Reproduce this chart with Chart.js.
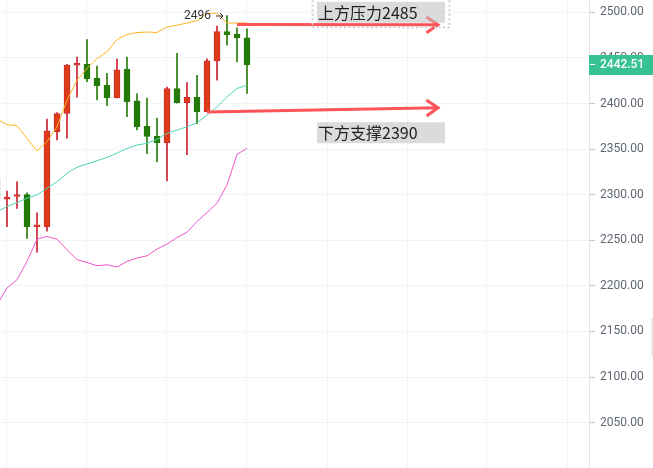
<!DOCTYPE html>
<html><head><meta charset="utf-8">
<script src="https://cdn.jsdelivr.net/npm/chart.js@4.4.0/dist/chart.umd.min.js"></script>
<style>html,body{margin:0;padding:0;background:#fff;overflow:hidden}#wrap{position:relative;width:653px;height:468px}</style>
</head><body><div id="wrap"><canvas id="c" width="653" height="468"></canvas></div>
<script>
// ---- data ----
const categories = ['1','2','3','4','5','6','7','8','9','10','11','12','13','14','15','16','17','18','19','20','21','22','23','24','25','26'];
const opens  = [2317, 2295, 2298, 2300, 2265, 2265, 2369, 2389, 2442, 2443, 2427.5, 2420, 2406, 2437.6, 2403, 2375, 2364, 2357, 2416.5, 2401, 2406.7, 2391, 2446.7, 2479, 2476, 2472];
const highs  = [2321, 2304, 2314, 2302, 2280, 2383, 2390, 2443, 2451, 2470, 2441, 2433, 2448.6, 2451, 2411, 2406, 2384, 2418, 2455, 2423, 2431, 2449, 2485, 2496.5, 2483, 2482];
const lows   = [2290, 2265, 2285, 2252, 2237, 2260, 2360, 2362, 2407, 2424, 2404, 2397.5, 2406, 2385.5, 2371, 2345, 2336, 2315, 2400.5, 2344, 2378, 2391, 2425.6, 2464, 2445.6, 2411];
const closes = [2295, 2297, 2300, 2265, 2267, 2370, 2389, 2442, 2444, 2427, 2419.5, 2406, 2437, 2402, 2374.5, 2364, 2357, 2416.5, 2400.8, 2406.7, 2391, 2446.7, 2479, 2475.6, 2472, 2442.51];
const bollUpper  = [2383, 2377, 2375.6, 2361.8, 2347.9, 2358.1, 2374.5, 2403.7, 2425.6, 2438.4, 2449.3, 2456.6, 2470.1, 2475.6, 2477.8, 2478.4, 2477.8, 2483.9, 2485.8, 2488.3, 2490.8, 2498.9, 2498.9, 2488.3, 2488.3, 2488.3];
const bollMiddle = [2281.2, 2287.0, 2291.4, 2296.2, 2299.8, 2307.1, 2314.3, 2323.5, 2330.1, 2333.7, 2337.3, 2340.8, 2345.7, 2350.7, 2354.5, 2356.3, 2360.7, 2367.3, 2370.9, 2374.5, 2378.9, 2387.3, 2396.4, 2407.3, 2416.5, 2420.1];
const bollLower  = [2179.4, 2197.7, 2206.8, 2226.8, 2251.3, 2254.2, 2251.3, 2239.6, 2228.7, 2225.7, 2222.1, 2223.2, 2220.7, 2226.8, 2230.5, 2233.0, 2240.4, 2245.8, 2253.1, 2258.9, 2270.6, 2280.4, 2290.7, 2310.7, 2344.3, 2350.9];
const yTicks = [2050, 2100, 2150, 2200, 2250, 2300, 2350, 2400, 2450, 2500];
const lastPrice = 2442.51;
const highMarkText = '2496';
const highMarkIndex = 23;
const resistanceLine = {from: 24, to: 44.1, p1: 2486.5, p2: 2486.3, label: '上方压力2485', labelPrice: 2500};
const supportLine    = {from: 21, to: 44.1, p1: 2390.6, p2: 2395.3, label: '下方支撑2390', labelPrice: 2368};

// ---- styles ----
const UP_FILL = '#dc3c18', UP_LINE = '#d12a2e';
const DN_FILL = '#247a06', DN_LINE = '#237a0a';
const GRID = '#f0f3fa';

const isUp = opens.map((o, i) => closes[i] >= o);
const pts = (arr) => arr.map((v, i) => ({x: i, y: v}));

const overlay = {
  id: 'overlay',
  afterDraw(chart) {
    const {ctx, scales: {x, y}} = chart;
    ctx.save();
    // high mark "2496 →"
    const hx = x.getPixelForValue(highMarkIndex), hy = y.getPixelForValue(highs[highMarkIndex]);
    ctx.fillStyle = '#333';
    ctx.font = '12px Roboto';
    ctx.textAlign = 'right'; ctx.textBaseline = 'middle';
    ctx.fillText(highMarkText, hx - 16, hy);
    ctx.strokeStyle = '#333'; ctx.lineWidth = 1;
    ctx.beginPath(); ctx.moveTo(hx - 11, hy + 0.5); ctx.lineTo(hx - 4, hy + 0.5); ctx.stroke();
    ctx.beginPath(); ctx.moveTo(hx - 7, hy - 2.5); ctx.lineTo(hx - 4, hy + 0.5); ctx.lineTo(hx - 7, hy + 3.5); ctx.stroke();

    // arrows
    function arrow(l) {
      const x1 = x.getPixelForValue(l.from), y1 = y.getPixelForValue(l.p1);
      const x2 = x.getPixelForValue(l.to), y2 = y.getPixelForValue(l.p2);
      ctx.strokeStyle = '#ff5358'; ctx.lineWidth = 3; ctx.lineCap = 'butt'; ctx.lineJoin = 'miter';
      ctx.beginPath(); ctx.moveTo(x1, y1); ctx.lineTo(x2, y2); ctx.stroke();
      const a = Math.atan2(y2 - y1, x2 - x1), L = 14, w = 0.6;
      ctx.beginPath();
      ctx.moveTo(x2 - L * Math.cos(a - w), y2 - L * Math.sin(a - w));
      ctx.lineTo(x2, y2);
      ctx.lineTo(x2 - L * Math.cos(a + w), y2 - L * Math.sin(a + w));
      ctx.stroke();
    }
    arrow(resistanceLine); arrow(supportLine);

    // label boxes
    function label(l, dotted) {
      const bx = x.getPixelForValue(32), cy = y.getPixelForValue(l.labelPrice);
      const bw = 128, bh = 21;
      ctx.fillStyle = 'rgba(190,190,190,0.55)';
      ctx.fillRect(bx, cy - bh / 2, bw, bh);
      if (dotted) {
        ctx.save();
        ctx.strokeStyle = '#cfcfcf'; ctx.lineWidth = 2; ctx.setLineDash([2, 2.5]);
        ctx.strokeRect(bx - 4.5, cy - bh / 2 - 4, bw + 9, bh + 8.5);
        ctx.restore();
      }
      ctx.fillStyle = '#1e1e1e';
      ctx.font = '16px "Noto Sans CJK SC"';
      ctx.textAlign = 'left'; ctx.textBaseline = 'middle';
      ctx.fillText(l.label, bx + 1, cy + 0.5);
    }
    label(resistanceLine, true); label(supportLine, false);

    // last price tag
    const py = y.getPixelForValue(lastPrice);
    ctx.fillStyle = '#36c291';
    ctx.fillRect(y.left, Math.round(py) - 10, chart.width - y.left, 20);
    ctx.strokeStyle = '#ffffff'; ctx.lineWidth = 1;
    ctx.beginPath(); ctx.moveTo(y.left + 1, Math.round(py) - 0.5); ctx.lineTo(y.left + 6, Math.round(py) - 0.5); ctx.stroke();
    ctx.fillStyle = '#ffffff';
    ctx.font = '500 12px Roboto';
    ctx.textAlign = 'left'; ctx.textBaseline = 'middle';
    ctx.fillText(lastPrice.toFixed(2), y.left + 11, py + 0.5);

    // tiny scroll handle at right edge
    ctx.fillStyle = '#e9ebee';
    ctx.fillRect(651, 318, 2, 39);
    ctx.restore();
  }
};

new Chart(document.getElementById('c'), {
  data: {
    labels: categories,
    datasets: [
      {type: 'line', label: 'upper', data: pts(bollUpper), borderColor: '#ffb320', borderWidth: 1, pointRadius: 0, tension: 0, order: 0},
      {type: 'line', label: 'middle', data: pts(bollMiddle), borderColor: '#4ad6b6', borderWidth: 1, pointRadius: 0, tension: 0, order: 0},
      {type: 'line', label: 'lower', data: pts(bollLower), borderColor: '#f055c8', borderWidth: 1, pointRadius: 0, tension: 0, order: 0},
      {type: 'bar', label: 'body', data: opens.map((o, i) => ({x: i, y: [o, closes[i]]})),
        backgroundColor: isUp.map(u => u ? UP_FILL : DN_FILL), borderColor: isUp.map(u => u ? UP_LINE : DN_LINE),
        borderWidth: 1, borderSkipped: false, barThickness: 6, grouped: false, order: 1},
      {type: 'bar', label: 'wick', data: lows.map((l, i) => ({x: i, y: [l, highs[i]]})),
        backgroundColor: isUp.map(u => u ? '#cc2233' : '#2a7d0a'), borderWidth: 0, barThickness: 1, grouped: false, order: 2}
    ]
  },
  options: {
    responsive: false, animation: false, devicePixelRatio: 1,
    layout: {padding: 0},
    plugins: {legend: {display: false}, tooltip: {enabled: false}},
    scales: {
      x: {
        type: 'linear', min: 0.3, max: 59.2, offset: false,
        grid: {color: GRID, drawTicks: false, offset: false},
        border: {display: false},
        ticks: {display: false},
        afterBuildTicks: s => { s.ticks = [1, 9, 17, 25, 33, 41, 49, 57].map(v => ({value: v})); },
        afterFit: s => { s.height = 0; }
      },
      y: {
        type: 'linear', position: 'right', min: 2000.3, max: 2513.5,
        grid: {color: GRID, tickLength: 6, tickColor: '#c3c6cc'},
        border: {color: '#e2e5ea'},
        ticks: {padding: 5, color: '#5e6673', font: {family: 'Roboto', size: 12}, callback: v => Number(v).toFixed(2)},
        afterBuildTicks: s => { s.ticks = yTicks.map(v => ({value: v})); },
        afterFit: s => { s.width = 64; s.paddingTop = 0; s.paddingBottom = 0; }
      }
    }
  },
  plugins: [overlay]
});
</script></body></html>
